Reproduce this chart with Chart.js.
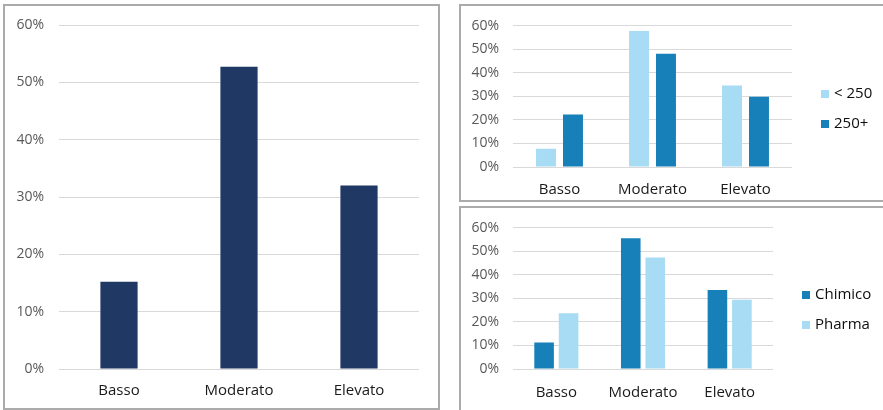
<!DOCTYPE html>
<html>
<head>
<meta charset="utf-8">
<script src="https://cdn.jsdelivr.net/npm/chart.js@4"></script>
<style>
  html, body { margin: 0; padding: 0; background: #ffffff; }
  body { width: 883px; height: 410px; position: relative; overflow: hidden; font-family: 'Open Sans', sans-serif; }
  .panel { position: absolute; box-sizing: border-box; border: 2px solid #ababab; background: #fff; }
  canvas { position: absolute; }
  .legend { position: absolute; font-size: 15px; color: #0d0d0d; }
  .legend .item { position: absolute; white-space: nowrap; height: 20px; line-height: 20px; }
  .legend .box { display: inline-block; width: 8px; height: 8px; margin-right: 5px; vertical-align: 0px; }
</style>
</head>
<body>
<div class="panel" style="left:3px;top:4px;width:437px;height:406px;"></div>
<div class="panel" style="left:459px;top:4px;width:430px;height:198px;"></div>
<div class="panel" style="left:459px;top:206px;width:430px;height:210px;"></div>

<canvas id="totalChart" width="433" height="402" style="left:5px;top:6px;"></canvas>
<canvas id="sizeChart" width="421" height="193" style="left:461px;top:6px;"></canvas>
<canvas id="sectorChart" width="421" height="200" style="left:461px;top:208px;"></canvas>

<div class="legend" id="sizeLegend" style="left:821px;top:82px;"></div>
<div class="legend" id="sectorLegend" style="left:802px;top:283px;"></div>

<script>
// Livello di rischio - quote percentuali
const categories = ['Basso', 'Moderato', 'Elevato'];
const totalValues = [15.2, 52.7, 32.0];

const sizeLabels = ['< 250', '250+'];
const smallValues = [7.8, 57.8, 34.6];
const largeValues = [22.3, 48.1, 29.8];

const sectorLabels = ['Chimico', 'Pharma'];
const chimicoValues = [11.3, 55.5, 33.5];
const pharmaValues = [23.7, 47.3, 29.4];

const yMax = 60;
const yStep = 10;

const navy = '#1f3864';
const lightBlue = '#a7dcf4';
const darkBlue = '#1780b9';

// build common options, sizes in px for this layout
function makeOptions(cfg) {
    return {
        responsive: false,
        animation: false,
        layout: { padding: { left: 0, top: cfg.top, right: cfg.right, bottom: 0 } },
        plugins: { legend: { display: false }, tooltip: { enabled: false } },
        scales: {
            x: {
                grid: { display: false },
                border: { display: false },
                ticks: {
                    color: '#1a1a1a',
                    font: { family: 'Open Sans', size: 15 },
                    padding: cfg.xPad,
                    maxRotation: 0,
                    autoSkip: false
                },
                afterFit: function(scale) { scale.height = cfg.xHeight; }
            },
            y: {
                min: 0,
                max: yMax,
                grid: { color: '#d9d9d9', lineWidth: 1, drawTicks: false },
                border: { display: false },
                ticks: {
                    stepSize: yStep,
                    color: '#595959',
                    font: { family: 'Open Sans', size: 14 },
                    padding: cfg.yPad,
                    callback: function(v) { return v + '%'; }
                },
                afterFit: function(scale) {
                    scale.width = cfg.yWidth;
                    // top label overflow is covered by layout padding
                    scale.paddingTop = 0;
                    scale.paddingBottom = 0;
                }
            }
        }
    };
}

function buildLegend(id, labels, colors) {
    const el = document.getElementById(id);
    labels.forEach(function(lbl, i) {
        const item = document.createElement('div');
        item.className = 'item';
        item.style.top = (i * 30) + 'px';
        const box = document.createElement('span');
        box.className = 'box';
        box.style.background = colors[i];
        item.appendChild(box);
        item.appendChild(document.createTextNode(lbl));
        el.appendChild(item);
    });
}

document.addEventListener('DOMContentLoaded', function() {
    // Totale
    new Chart(document.getElementById('totalChart').getContext('2d'), {
        type: 'bar',
        data: {
            labels: categories,
            datasets: [{
                label: 'Totale',
                data: totalValues,
                backgroundColor: navy,
                categoryPercentage: 1,
                barPercentage: 0.31
            }]
        },
        options: makeOptions({ top: 19, right: 19, xHeight: 39, xPad: 5, yWidth: 54, yPad: 15 })
    });

    // Per dimensione
    new Chart(document.getElementById('sizeChart').getContext('2d'), {
        type: 'bar',
        data: {
            labels: categories,
            datasets: [{
                label: sizeLabels[0],
                data: smallValues,
                backgroundColor: lightBlue,
                categoryPercentage: 0.58,
                barPercentage: 0.74
            }, {
                label: sizeLabels[1],
                data: largeValues,
                backgroundColor: darkBlue,
                categoryPercentage: 0.58,
                barPercentage: 0.74
            }]
        },
        options: makeOptions({ top: 19.7, right: 90, xHeight: 32, xPad: 6, yWidth: 52, yPad: 14 })
    });

    // Per settore
    new Chart(document.getElementById('sectorChart').getContext('2d'), {
        type: 'bar',
        data: {
            labels: categories,
            datasets: [{
                label: sectorLabels[0],
                data: chimicoValues,
                backgroundColor: darkBlue,
                categoryPercentage: 0.565,
                barPercentage: 0.8
            }, {
                label: sectorLabels[1],
                data: pharmaValues,
                backgroundColor: lightBlue,
                categoryPercentage: 0.565,
                barPercentage: 0.8
            }]
        },
        options: makeOptions({ top: 19.7, right: 109, xHeight: 39, xPad: 7, yWidth: 52, yPad: 14 })
    });

    buildLegend('sizeLegend', sizeLabels, [lightBlue, darkBlue]);
    buildLegend('sectorLegend', sectorLabels, [darkBlue, lightBlue]);
});
</script>
</body>
</html>
